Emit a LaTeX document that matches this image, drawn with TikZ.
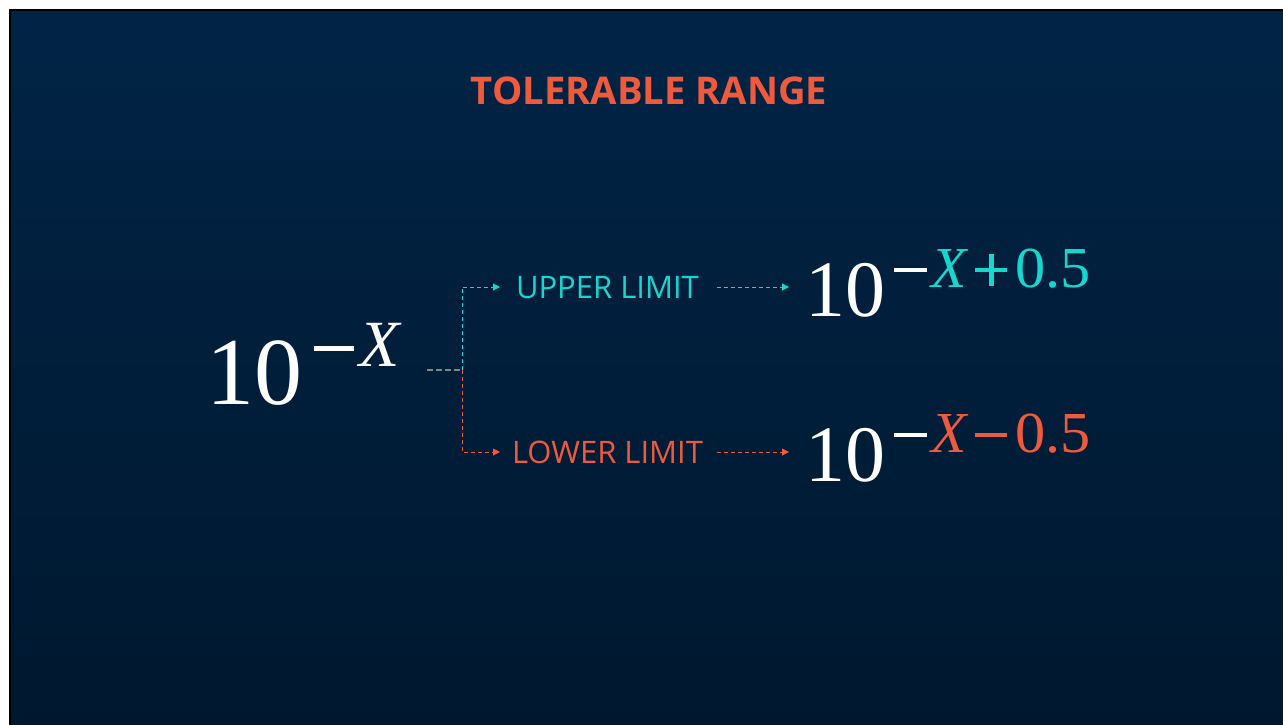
\documentclass[tikz,border=0pt]{standalone}
\usepackage{fontspec}
\setmainfont{Liberation Serif}
\newfontfamily\labelfont{Open Sans}
\newfontfamily\titlefont{Open Sans}[BoldFont={* Bold}]
\usetikzlibrary{arrows.meta,calc}
\definecolor{navytop}{RGB}{1,36,70}
\definecolor{navybot}{RGB}{0,24,47}
\definecolor{cyanc}{RGB}{22,214,206}
\definecolor{orangec}{RGB}{240,90,60}
\definecolor{greyc}{RGB}{130,135,128}
% bar-drawn operators: #1 centre height above baseline, #2 width, #3 thickness
\newcommand\barminus[3]{\rule[\dimexpr#1-#3/2\relax]{#2}{#3}}
\newcommand\barplus[3]{\rlap{\rule[\dimexpr#1-#3/2\relax]{#2}{#3}}%
  \kern\dimexpr(#2-#3)/2\relax\rule[\dimexpr#1-#2/2\relax]{#3}{#2}\kern\dimexpr(#2-#3)/2\relax}
\tikzset{
  lbl/.style={inner sep=0pt, outer xsep=0pt, font=\labelfont\fontsize{31}{31}\selectfont},
  expr/.style={inner sep=0pt, outer xsep=0pt, text=white},
  conn/.style={dash pattern=on 4pt off 3pt, line width=1pt, -{Triangle[length=7pt,width=7pt]}},
  seg/.style={dash pattern=on 6pt off 3pt, line width=1.6pt},
}
\begin{document}
\begin{tikzpicture}[x=1pt,y=-1pt]
\useasboundingbox (0,0) rectangle (1283,724);
\fill[white] (0,0) rectangle (1283,724);
\shade[top color=navytop, bottom color=navybot] (10,10) rectangle (1285,726);
\draw[black, line width=2pt] (10,10) rectangle (1285,726);
% title
\node[anchor=base, text=orangec, font=\titlefont\bfseries\fontsize{38.2}{38.2}\selectfont] (title) at (649,104) {TOLERABLE RANGE};
% source expression
\node[expr, anchor=base west] (src) at (206,404)
  {\fontsize{96}{96}\selectfont 10\kern12pt\raisebox{38pt}{\fontsize{66}{66}\selectfont \barminus{18pt}{40pt}{5pt}\kern5pt\textit{X}}};
\coordinate (srcend) at (427,370);
\coordinate (j) at (462,370);
% labels
\node[lbl, text=cyanc, anchor=base west] (upper) at (516,298) {UPPER LIMIT};
\node[lbl, text=orangec, anchor=base west] (lower) at (512,463) {LOWER LIMIT};
% result expressions
\node[expr, anchor=base west] (upperexpr) at (805,316)
  {\fontsize{80}{80}\selectfont 10\kern9pt\raisebox{29pt}{\fontsize{58}{58}\selectfont \barminus{17pt}{33pt}{4.5pt}\kern4pt{\color{cyanc}\textit{X}\kern7pt\barplus{17pt}{32pt}{4.5pt}\kern8pt\scalebox{1.04}[1]{0.5}}}};
\node[expr, anchor=base west] (lowerexpr) at (805,481)
  {\fontsize{80}{80}\selectfont 10\kern9pt\raisebox{29pt}{\fontsize{58}{58}\selectfont \barminus{17pt}{33pt}{4.5pt}\kern4pt{\color{orangec}\textit{X}\kern7pt\barminus{17pt}{32pt}{4.5pt}\kern8pt\scalebox{1.04}[1]{0.5}}}};
% connectors
\draw[seg, greyc] (srcend) -- (j);
\draw[conn, cyanc] (j) |- ([xshift=-16pt]upper.west |- 0,287);
\draw[conn, orangec] (j) |- ([xshift=-12pt]lower.west |- 0,452);
\draw[conn, cyanc] ([xshift=18pt]upper.east |- 0,287) -- ([xshift=-16pt]upperexpr.west |- 0,287);
\draw[conn, orangec] ([xshift=14pt]lower.east |- 0,452) -- ([xshift=-16pt]lowerexpr.west |- 0,452);
\end{tikzpicture}
\end{document}
